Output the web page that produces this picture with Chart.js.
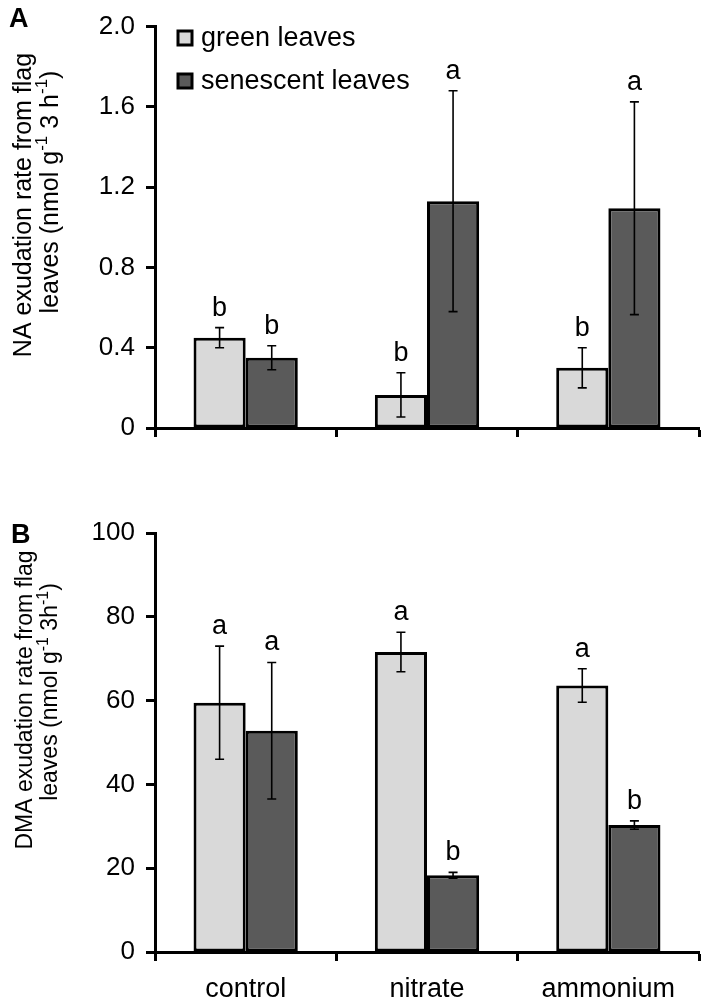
<!DOCTYPE html>
<html>
<head>
<meta charset="utf-8">
<script src="https://cdn.jsdelivr.net/npm/chart.js@4.4.0/dist/chart.umd.min.js"></script>
<style>
  html, body { margin: 0; padding: 0; background: #fff; }
  #wrap { position: relative; width: 708px; height: 1004px; }
  .panel { position: absolute; left: 0; width: 708px; }
  #panelA { top: 0; height: 470px; }
  #panelB { top: 470px; height: 534px; }
</style>
</head>
<body>
<div id="wrap">
  <div class="panel" id="panelA"><canvas id="chartA" width="708" height="470"></canvas></div>
  <div class="panel" id="panelB"><canvas id="chartB" width="708" height="534"></canvas></div>
</div>
<script>
// categories and series
const categories = ["control", "nitrate", "ammonium"];
const seriesNames = ["green leaves", "senescent leaves"];

// panel A: NA exudation (nmol g-1 3 h-1)
const naGreen = [0.45, 0.165, 0.30];
const naGreenErr = [0.05, 0.11, 0.10];
const naGreenLetters = ["b", "b", "b"];
const naSenescent = [0.35, 1.13, 1.095];
const naSenescentErr = [0.06, 0.55, 0.53];
const naSenescentLetters = ["b", "a", "a"];
const naTickValues = [0, 0.4, 0.8, 1.2, 1.6, 2.0];
const naTickLabels = ["0", "0.4", "0.8", "1.2", "1.6", "2.0"];

// panel B: DMA exudation
const dmaGreen = [59.5, 71.6, 63.6];
const dmaGreenErr = [13.5, 4.7, 4.0];
const dmaGreenLetters = ["a", "a", "a"];
const dmaSenescent = [52.8, 18.3, 30.3];
const dmaSenescentErr = [16.3, 0.7, 1.0];
const dmaSenescentLetters = ["a", "b", "b"];
const dmaTickValues = [0, 20, 40, 60, 80, 100];
const dmaTickLabels = ["0", "20", "40", "60", "80", "100"];

const FONT = "'Liberation Sans', Arial, Helvetica, sans-serif";
const LIGHT = "#d9d9d9";
const DARK = "#5a5a5a";

Chart.defaults.font.family = FONT;
Chart.defaults.color = "#000";

// error bars + significance letters on top of every bar
const errorBarPlugin = {
  id: "errorBars",
  afterDatasetsDraw(chart) {
    const ctx = chart.ctx;
    const yScale = chart.scales.y;
    ctx.save();
    chart.data.datasets.forEach((ds, i) => {
      const meta = chart.getDatasetMeta(i);
      meta.data.forEach((bar, j) => {
        const top = yScale.getPixelForValue(ds.data[j] + ds.errors[j]);
        const bottom = yScale.getPixelForValue(ds.data[j] - ds.errors[j]);
        ctx.strokeStyle = "#000";
        ctx.lineWidth = 1.6;
        ctx.beginPath();
        ctx.moveTo(bar.x, top);
        ctx.lineTo(bar.x, bottom);
        ctx.moveTo(bar.x - 4.5, top);
        ctx.lineTo(bar.x + 4.5, top);
        ctx.moveTo(bar.x - 4.5, bottom);
        ctx.lineTo(bar.x + 4.5, bottom);
        ctx.stroke();

        ctx.fillStyle = "#000";
        ctx.font = "27px " + FONT;
        ctx.textAlign = "center";
        ctx.textBaseline = "alphabetic";
        ctx.fillText(ds.letters[j], bar.x, top - 12);
      });
    });
    ctx.restore();
  },
};

// rotated text line with superscripts, centred on (cx, cy)
function drawRich(ctx, parts, cx, cy, size) {
  const supSize = Math.round(size * 0.68);
  ctx.save();
  ctx.translate(cx, cy);
  ctx.rotate(-Math.PI / 2);
  let total = 0;
  parts.forEach((p) => {
    ctx.font = (p.sup ? supSize : size) + "px " + FONT;
    total += ctx.measureText(p.t).width;
  });
  let x = -total / 2;
  ctx.textAlign = "left";
  ctx.textBaseline = "middle";
  ctx.fillStyle = "#000";
  parts.forEach((p) => {
    ctx.font = (p.sup ? supSize : size) + "px " + FONT;
    ctx.fillText(p.t, x, p.sup ? -size * 0.33 : 0);
    x += ctx.measureText(p.t).width;
  });
  ctx.restore();
}

const decorPlugin = {
  id: "decor",
  afterDraw(chart, args, opts) {
    const ctx = chart.ctx;
    ctx.save();
    ctx.fillStyle = "#000";
    ctx.font = "bold 27px " + FONT;
    ctx.textAlign = "left";
    ctx.textBaseline = "alphabetic";
    ctx.fillText(opts.panel, opts.panelX, opts.panelY);
    opts.titleLines.forEach((line) => drawRich(ctx, line.parts, line.x, line.y, line.size));

    if (opts.legend) {
      chart.data.datasets.forEach((ds, i) => {
        const y = opts.legend.y + i * opts.legend.rowGap;
        ctx.fillStyle = ds.backgroundColor;
        ctx.fillRect(opts.legend.x, y - 7, 14, 14);
        ctx.strokeStyle = "#000";
        ctx.lineWidth = 3;
        ctx.strokeRect(opts.legend.x, y - 7, 14, 14);
        ctx.fillStyle = "#000";
        ctx.font = "27px " + FONT;
        ctx.textAlign = "left";
        ctx.textBaseline = "middle";
        ctx.fillText(ds.label, opts.legend.x + 23, y + 1);
      });
    }
    ctx.restore();
  },
};

function makeChart(canvasId, cfg) {
  return new Chart(document.getElementById(canvasId), {
    type: "bar",
    data: {
      labels: categories,
      datasets: [
        {
          label: seriesNames[0],
          data: cfg.green,
          errors: cfg.greenErr,
          letters: cfg.greenLetters,
          backgroundColor: LIGHT,
          borderColor: "#000",
          borderWidth: 3,
          borderSkipped: false,
          categoryPercentage: 0.575,
          barPercentage: 1.0,
        },
        {
          label: seriesNames[1],
          data: cfg.senescent,
          errors: cfg.senescentErr,
          letters: cfg.senescentLetters,
          backgroundColor: DARK,
          borderColor: "#000",
          borderWidth: 3,
          borderSkipped: false,
          categoryPercentage: 0.575,
          barPercentage: 1.0,
        },
      ],
    },
    options: {
      responsive: false,
      animation: false,
      devicePixelRatio: 1,
      layout: { padding: { left: 0, right: 9, top: cfg.top, bottom: 0 } },
      plugins: {
        legend: { display: false },
        tooltip: { enabled: false },
        decor: cfg.decor,
      },
      scales: {
        x: {
          offset: true,
          afterFit: (s) => { s.height = cfg.xHeight; },
          ticks: {
            display: cfg.showX,
            color: "#000",
            font: { size: 27 },
            padding: 12,
          },
          grid: {
            offset: true,
            drawOnChartArea: false,
            drawTicks: true,
            tickLength: 9,
            tickWidth: 3,
            tickColor: "#000",
          },
          border: { display: true, width: 3, color: "#000" },
        },
        y: {
          min: cfg.ticks[0],
          max: cfg.ticks[cfg.ticks.length - 1],
          afterBuildTicks: (s) => { s.ticks = cfg.ticks.map((v) => ({ value: v })); },
          afterFit: (s) => { s.width = 155; },
          ticks: {
            callback: (v, i) => cfg.tickLabels[i],
            color: "#000",
            font: { size: 26 },
            padding: 11,
          },
          grid: {
            drawOnChartArea: false,
            drawTicks: true,
            tickLength: 9,
            tickWidth: 3,
            tickColor: "#000",
          },
          border: { display: true, width: 3, color: "#000" },
        },
      },
    },
    plugins: [errorBarPlugin, decorPlugin],
  });
}

makeChart("chartA", {
  green: naGreen, greenErr: naGreenErr, greenLetters: naGreenLetters,
  senescent: naSenescent, senescentErr: naSenescentErr, senescentLetters: naSenescentLetters,
  ticks: naTickValues, tickLabels: naTickLabels,
  top: 15, xHeight: 42, showX: false,
  decor: {
    panel: "A", panelX: 9, panelY: 27,
    legend: { x: 178, y: 38, rowGap: 43 },
    titleLines: [
      { x: 24, y: 205, size: 25, parts: [{ t: "NA exudation rate from flag" }] },
      { x: 51, y: 192, size: 25, parts: [{ t: "leaves (nmol g" }, { t: "-1", sup: true }, { t: " 3 h" }, { t: "-1", sup: true }, { t: ")" }] },
    ],
  },
});

makeChart("chartB", {
  green: dmaGreen, greenErr: dmaGreenErr, greenLetters: dmaGreenLetters,
  senescent: dmaSenescent, senescentErr: dmaSenescentErr, senescentLetters: dmaSenescentLetters,
  ticks: dmaTickValues, tickLabels: dmaTickLabels,
  top: 63, xHeight: 52, showX: true,
  decor: {
    panel: "B", panelX: 11, panelY: 73,
    legend: null,
    titleLines: [
      { x: 26, y: 230, size: 23, parts: [{ t: "DMA exudation rate from flag" }] },
      { x: 51, y: 222, size: 23, parts: [{ t: "leaves (nmol g" }, { t: "-1", sup: true }, { t: " 3h" }, { t: "-1", sup: true }, { t: ")" }] },
    ],
  },
});
</script>
</body>
</html>
